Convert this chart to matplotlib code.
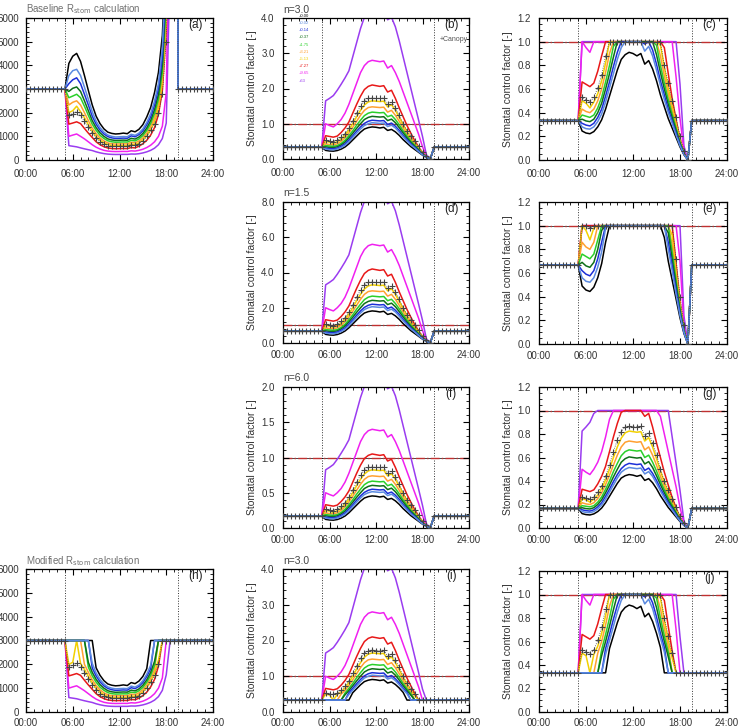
import numpy as np
import matplotlib
matplotlib.use('Agg')
import matplotlib.pyplot as plt
from matplotlib.ticker import MultipleLocator, FormatStrFormatter, FuncFormatter

plt.rcParams['font.family'] = ['Liberation Sans', 'DejaVu Sans']

# ---------------- data ----------------
# half-hourly time axis (hours)
time_h = np.arange(0, 24.01, 0.5)
sunrise_h = 5.0
sunset_h = 19.5

# daytime values (05:30 .. 18:30, half-hourly) of stomatal control factor, n = 3.0
day_black = [0.245, 0.228, 0.222, 0.24, 0.28, 0.34, 0.43, 0.54, 0.65, 0.76, 0.85, 0.89, 0.91, 0.90,
             0.88, 0.90, 0.81, 0.84, 0.77, 0.67, 0.55, 0.45, 0.35, 0.27, 0.19, 0.11, 0.045]
day_cornflower = [0.28, 0.265, 0.261, 0.28, 0.325, 0.39, 0.49, 0.61, 0.73, 0.85, 0.95, 1.0, 1.03, 1.02,
                  1.01, 1.02, 0.92, 0.96, 0.88, 0.76, 0.63, 0.51, 0.40, 0.31, 0.21, 0.12, 0.05]
day_blue = [0.31, 0.295, 0.288, 0.31, 0.36, 0.43, 0.54, 0.66, 0.79, 0.91, 1.01, 1.07, 1.10, 1.09,
            1.08, 1.09, 0.98, 1.02, 0.93, 0.81, 0.67, 0.55, 0.43, 0.33, 0.23, 0.13, 0.05]
day_darkgreen = [0.345, 0.33, 0.324, 0.345, 0.40, 0.48, 0.60, 0.73, 0.87, 1.0, 1.12, 1.18, 1.21, 1.20,
                 1.19, 1.20, 1.09, 1.13, 1.03, 0.89, 0.74, 0.60, 0.47, 0.36, 0.25, 0.14, 0.055]
day_green = [0.38, 0.37, 0.36, 0.38, 0.44, 0.53, 0.66, 0.80, 0.96, 1.10, 1.23, 1.30, 1.33, 1.32,
             1.31, 1.32, 1.20, 1.24, 1.12, 0.97, 0.80, 0.65, 0.51, 0.39, 0.27, 0.15, 0.06]
day_orange = [0.43, 0.41, 0.40, 0.43, 0.50, 0.60, 0.74, 0.90, 1.07, 1.24, 1.38, 1.46, 1.48, 1.47,
              1.46, 1.47, 1.33, 1.38, 1.24, 1.07, 0.88, 0.71, 0.56, 0.42, 0.29, 0.16, 0.06]
day_gold = [0.50, 0.48, 0.44, 0.49, 0.56, 0.67, 0.82, 1.0, 1.2, 1.38, 1.53, 1.62, 1.65, 1.64,
            1.63, 1.64, 1.48, 1.54, 1.38, 1.18, 0.97, 0.78, 0.61, 0.46, 0.31, 0.17, 0.06]
day_red = [0.66, 0.64, 0.62, 0.65, 0.75, 0.88, 1.05, 1.30, 1.55, 1.78, 1.97, 2.06, 2.10, 2.08,
           2.06, 2.08, 1.90, 1.95, 1.72, 1.45, 1.20, 0.95, 0.73, 0.52, 0.34, 0.18, 0.06]
day_magenta = [1.0, 0.95, 0.91, 1.0, 1.12, 1.30, 1.55, 1.85, 2.15, 2.45, 2.65, 2.76, 2.80, 2.78,
               2.76, 2.78, 2.58, 2.65, 2.45, 2.20, 1.90, 1.60, 1.30, 1.0, 0.70, 0.35, 0.08]
day_purple = [1.65, 1.72, 1.80, 1.95, 2.12, 2.30, 2.50, 2.90, 3.30, 3.70, 4.02, 4.20, 4.28, 4.25,
              4.20, 4.22, 3.95, 4.02, 3.75, 3.35, 2.90, 2.45, 2.00, 1.55, 1.10, 0.64, 0.12]
day_canopy = [0.53, 0.51, 0.49, 0.53, 0.61, 0.72, 0.88, 1.08, 1.30, 1.50, 1.64, 1.72, 1.73, 1.72,
              1.72, 1.73, 1.56, 1.62, 1.45, 1.25, 1.0, 0.80, 0.65, 0.50, 0.36, 0.20, 0.08]

series_labels = ['0.00', '0.02', '0.14', '0.37', '1.75', '3.21', '5.13', '7.27', '9.65', '63']
series_colors = ['#000000', '#5a8ae0', '#1c2fd8', '#0e6e18', '#2ad02a', '#ffa030', '#f2d000',
                 '#e81818', '#f020f0', '#9a3cf0']
series_day = [day_black, day_cornflower, day_blue, day_darkgreen, day_green, day_orange, day_gold,
              day_red, day_magenta, day_purple]

n_values = {'b': 3.0, 'd': 1.5, 'f': 6.0}
night_factor_n3 = 1.0 / 3.0
sunset_factor = 0.0
r_stom_ref = 1000.0          # R_stom = r_stom_ref / factor
modified_threshold = 0.46    # modified calc: factor below this -> night value


def full_series(day, night):
    return np.array([night] * 11 + list(day) + [sunset_factor] + [night] * 10)


# ---------------- figure ----------------
W, H = 742, 728
fig = plt.figure(figsize=(W / 100, H / 100), dpi=100)


def add_ax(x0, y0, x1, y1):
    return fig.add_axes([x0 / W, 1 - y1 / H, (x1 - x0) / W, (y1 - y0) / H])


def style(ax, ymax, ymaj, ymin, fmt, label=None, ylabel=True, hline=True, xpad=5.0, ypad=6.0):
    ax.set_xlim(0, 24)
    ax.set_ylim(0, ymax)
    ax.xaxis.set_major_locator(MultipleLocator(6))
    ax.xaxis.set_minor_locator(MultipleLocator(1))
    ax.xaxis.set_major_formatter(FuncFormatter(lambda v, p: f"{int(round(v)):02d}:00"))
    ax.yaxis.set_major_locator(MultipleLocator(ymaj))
    ax.yaxis.set_minor_locator(MultipleLocator(ymin))
    ax.yaxis.set_major_formatter(FormatStrFormatter(fmt))
    ax.tick_params(which='both', direction='in', top=True, right=True, labelsize=7,
                   labelcolor='#333333')
    ax.tick_params(axis='x', which='major', pad=xpad)
    ax.tick_params(axis='y', which='major', pad=ypad)
    ax.tick_params(which='major', length=4, width=0.8)
    ax.tick_params(which='minor', length=2, width=0.6)
    for sp in ax.spines.values():
        sp.set_linewidth(0.9)
    ax.axvline(sunrise_h, color='#333333', ls=':', lw=0.7, zorder=1)
    ax.axvline(sunset_h, color='#333333', ls=':', lw=0.7, zorder=1)
    if hline:
        ax.axhline(1.0, color='black', lw=0.5, zorder=1)
        ax.axhline(1.0, color='#c03030', ls='-.', lw=1.0, zorder=1.5)
    if ylabel:
        ax.set_ylabel('Stomatal control factor [-]', fontsize=7.5, color='#333333', labelpad=3)
    if label:
        ax.text(0.905, 0.95, label, transform=ax.transAxes, fontsize=8.5, ha='center',
                va='center', color='#222222')


def draw(ax, arrays, canopy):
    order = [0, 9, 8, 7, 6, 5, 4, 3, 2, 1]
    for k, i in enumerate(order):
        ax.plot(time_h, arrays[i], color=series_colors[i], lw=1.1, zorder=2 + k * 0.01)
    ax.plot(time_h, canopy, ls=':', lw=0.6, color='#444444', marker='+', ms=4, mew=0.8,
            zorder=3)


def base_n(n):
    night = night_factor_n3 * 3.0 / n
    arrs = [full_series(np.array(d) * 3.0 / n, night) for d in series_day]
    can = full_series(np.array(day_canopy) * 3.0 / n, night)
    return arrs, can


def modified(arr):
    out = arr.copy()
    out[out < modified_threshold] = night_factor_n3
    return out


arr3, can3 = base_n(n_values['b'])
arr15, can15 = base_n(n_values['d'])
arr6, can6 = base_n(n_values['f'])
arr3m = [modified(a) for a in arr3]
can3m = modified(can3)

to_r = lambda a: r_stom_ref / np.maximum(a, 1e-3)
clip1 = lambda a: np.minimum(a, 1.0)

# row 1
ax_a = add_ax(26, 18, 213, 160)
draw(ax_a, [to_r(a) for a in arr3], to_r(can3))
style(ax_a, 6000, 1000, 200, '%d', '(a)', ylabel=False, hline=False, xpad=6.5, ypad=5.0)
fig.text(26 / W, 1 - 9 / H, r'Baseline R$_{\rm stom}$ calculation', fontsize=7,
         color='#707070', va='center')

ax_b = add_ax(283, 18, 469, 159)
draw(ax_b, arr3, can3)
style(ax_b, 4.0, 1.0, 0.2, '%.1f', '(b)', xpad=6.5)
fig.text(283 / W, 1 - 10 / H, 'n=3.0', fontsize=7.5, color='#444444', va='center')
for k, (lab, col) in enumerate(zip(series_labels, series_colors)):
    ax_b.text(0.085, 1.015 - k * 0.051, '+' + lab, transform=ax_b.transAxes, fontsize=3,
              color=col, va='center', ha='left')
ax_b.text(0.84, 0.85, '+Canopy', transform=ax_b.transAxes, fontsize=5, color='#555555',
          ha='left', va='center')

ax_c = add_ax(539, 18, 727, 160)
draw(ax_c, [clip1(a) for a in arr3], clip1(can3))
style(ax_c, 1.2, 0.2, 0.05, '%.1f', '(c)', xpad=6.5)

# row 2
ax_d = add_ax(283, 202, 469, 343)
draw(ax_d, arr15, can15)
style(ax_d, 8.0, 2.0, 0.4, '%.1f', '(d)')
fig.text(283 / W, 1 - 193 / H, 'n=1.5', fontsize=7.5, color='#444444', va='center')

ax_e = add_ax(539, 202, 727, 344)
draw(ax_e, [clip1(a) for a in arr15], clip1(can15))
style(ax_e, 1.2, 0.2, 0.05, '%.1f', '(e)')

# row 3
ax_f = add_ax(283, 387, 469, 528)
draw(ax_f, arr6, can6)
style(ax_f, 2.0, 0.5, 0.1, '%.1f', '(f)')
fig.text(283 / W, 1 - 378 / H, 'n=6.0', fontsize=7.5, color='#444444', va='center')

ax_g = add_ax(539, 387, 727, 528)
draw(ax_g, [clip1(a) for a in arr6], clip1(can6))
style(ax_g, 1.2, 0.2, 0.05, '%.1f', '(g)')

# row 4
ax_h = add_ax(26, 569, 213, 712)
draw(ax_h, [to_r(a) for a in arr3m], to_r(can3m))
style(ax_h, 6000, 1000, 200, '%d', '(h)', ylabel=False, hline=False, xpad=4.0, ypad=5.0)
fig.text(26 / W, 1 - 561 / H, r'Modified R$_{\rm stom}$ calculation', fontsize=7,
         color='#707070', va='center')

ax_i = add_ax(283, 569, 469, 712)
draw(ax_i, arr3m, can3m)
style(ax_i, 4.0, 1.0, 0.2, '%.1f', '(i)', xpad=4.0)
fig.text(283 / W, 1 - 561 / H, 'n=3.0', fontsize=7.5, color='#444444', va='center')

ax_j = add_ax(539, 571, 727, 712)
draw(ax_j, [clip1(a) for a in arr3m], clip1(can3m))
style(ax_j, 1.2, 0.2, 0.05, '%.1f', '(j)', xpad=4.0)

fig.savefig('out.png', dpi=100)
